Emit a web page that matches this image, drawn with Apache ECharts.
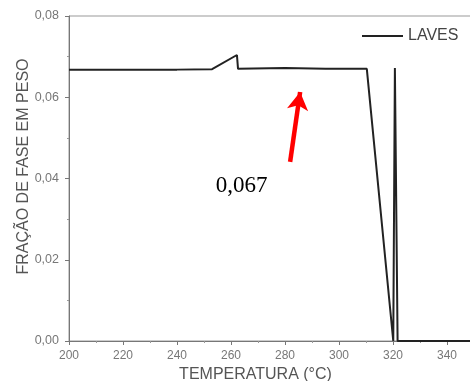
<!DOCTYPE html>
<html><head><meta charset="utf-8">
<script src="https://cdn.jsdelivr.net/npm/echarts@6/dist/echarts.min.js"></script>
<style>html,body{margin:0;padding:0;background:#fff}#c{width:470px;height:381px}</style>
</head><body><div id="c"></div>
<script>
var temps = [200, 240, 253, 262.2, 262.6, 280, 295, 310.3, 320.1, 320.7, 321.7, 350];
var laves = [0.0668, 0.0668, 0.0669, 0.0704, 0.0670, 0.0672, 0.0670, 0.0670, 0, 0.0672, 0, 0];
var xTicks = [200, 220, 240, 260, 280, 300, 320, 340];
var yTicks = [0, 0.02, 0.04, 0.06, 0.08];
var annText = '0,067';
var annPos = [263.9, 0.0382];
var arrowFrom = [281.9, 0.0441];
var arrowTo = [285.6, 0.0613];

var chart = echarts.init(document.getElementById('c'), null, {renderer: 'canvas'});
var fmt = function (v) { return v.toFixed(2).replace('.', ','); };
chart.setOption({
  animation: false,
  grid: {left: 69, width: 405, top: 16, bottom: 40, show: true, borderColor: '#999', borderWidth: 1,
    outerBoundsMode: 'none', containLabel: false},
  legend: {
    left: 357, top: 23, itemWidth: 41, itemHeight: 16, itemGap: 2,
    textStyle: {fontFamily: 'Liberation Sans', fontSize: 16, color: '#444'},
    data: [{name: 'LAVES', icon: 'path://M0,7 L41,7 L41,9 L0,9 Z'}]
  },
  xAxis: {
    type: 'value', min: 200, max: 350, interval: 20,
    name: 'TEMPERATURA (°C)', nameLocation: 'middle', nameGap: 26, nameMoveOverlap: false,
    nameTextStyle: {fontFamily: 'Liberation Sans', fontSize: 16, color: '#555', padding: [0, 32, 0, 0]},
    axisLine: {lineStyle: {color: '#777', width: 1}},
    axisTick: {show: true, length: 4, lineStyle: {color: '#777'}},
    minorTick: {show: true, splitNumber: 2, length: 2, lineStyle: {color: '#999'}},
    splitLine: {show: false},
    axisLabel: {fontFamily: 'Liberation Sans', fontSize: 12, color: '#777', margin: 9,
      formatter: function (v) { return xTicks.indexOf(v) >= 0 ? String(v) : ''; }}
  },
  yAxis: {
    type: 'value', min: 0, max: 0.08, interval: 0.02,
    name: 'FRAÇÃO DE FASE EM PESO', nameLocation: 'middle', nameGap: 37, nameMoveOverlap: false,
    nameTextStyle: {fontFamily: 'Liberation Sans', fontSize: 16, color: '#555', padding: [0, 0, 0, 24]},
    axisLine: {show: true, lineStyle: {color: '#777', width: 1}},
    axisTick: {show: true, length: 4, lineStyle: {color: '#777'}},
    minorTick: {show: true, splitNumber: 2, length: 2, lineStyle: {color: '#999'}},
    splitLine: {show: false},
    axisLabel: {fontFamily: 'Liberation Sans', fontSize: 12.5, color: '#777', margin: 10,
      formatter: function (v) { return fmt(v); }}
  },
  series: [{
    name: 'LAVES', type: 'line', symbol: 'none',
    data: temps.map(function (t, i) { return [t, laves[i]]; }),
    lineStyle: {color: '#222', width: 2},
    itemStyle: {color: '#222'},
    markPoint: {
      symbol: 'circle', symbolSize: 0, silent: true,
      label: {show: true, formatter: annText, fontFamily: 'Liberation Serif', fontSize: 23, color: '#000', position: 'inside'},
      data: [{coord: annPos, value: annText}]
    },
    markLine: {
      silent: true, symbol: ['none', 'arrow'], symbolSize: [16, 18],
      lineStyle: {color: '#ff0000', width: 4.5, type: 'solid'},
      label: {show: false},
      data: [[{coord: arrowFrom}, {coord: arrowTo}]]
    }
  }]
});
</script></body></html>
